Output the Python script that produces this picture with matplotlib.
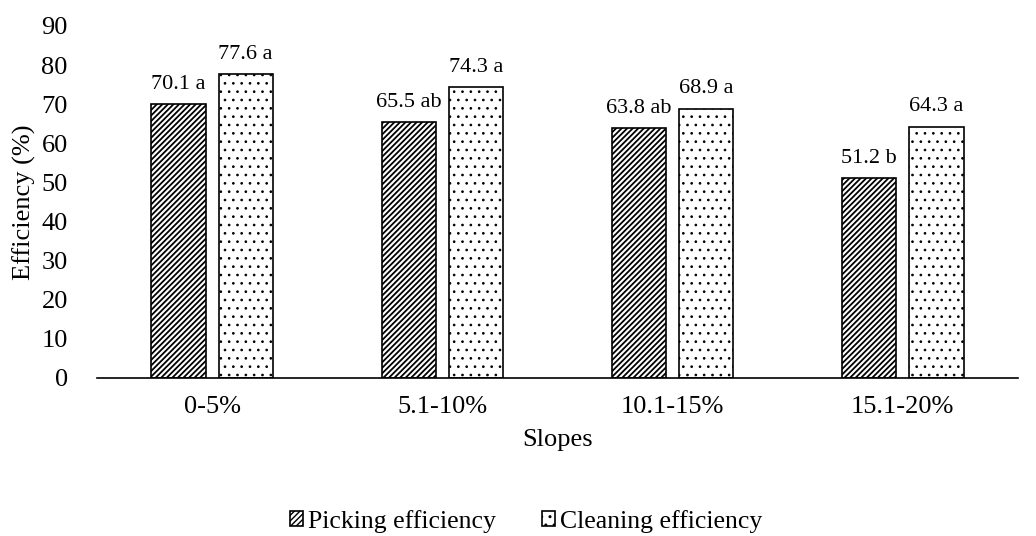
import matplotlib.pyplot as plt
import numpy as np

plt.rcParams['font.family'] = ['Liberation Serif', 'DejaVu Serif']

slopes = ['0-5%', '5.1-10%', '10.1-15%', '15.1-20%']
picking = [70.1, 65.5, 63.8, 51.2]
cleaning = [77.6, 74.3, 68.9, 64.3]
picking_lbl = ['70.1 a', '65.5 ab', '63.8 ab', '51.2 b']
cleaning_lbl = ['77.6 a', '74.3 a', '68.9 a', '64.3 a']

fig = plt.figure(figsize=(10.36, 5.36), dpi=100)
ax = fig.add_axes([0.0936, 0.2948, 0.889, 0.6567])

x = np.arange(len(slopes))
w = 0.235
off = 0.146

with plt.rc_context({'hatch.linewidth': 1.3}):
    b1 = ax.bar(x - off, picking, w, color='white', edgecolor='black', hatch='//////',
                linewidth=1.2, label='Picking efficiency')
with plt.rc_context({'hatch.linewidth': 0.7}):
    b2 = ax.bar(x + off, cleaning, w, color='white', edgecolor='black', hatch='..',
                linewidth=1.2, label='Cleaning efficiency')

for bars, labels in ((b1, picking_lbl), (b2, cleaning_lbl)):
    for b, t in zip(bars, labels):
        ax.text(b.get_x() + b.get_width() / 2, b.get_height() + 2.6, t,
                ha='center', va='bottom', fontsize=16)

ax.set_xlim(-0.5, 3.5)
ax.set_ylim(0, 90)
ax.set_yticks(range(0, 91, 10))
ax.set_xticks(x)
ax.set_xticklabels(slopes)
ax.tick_params(axis='both', length=0, labelsize=19)
ax.tick_params(axis='x', pad=13)
ax.tick_params(axis='y', pad=21)
for s in ['top', 'right', 'left']:
    ax.spines[s].set_visible(False)
ax.spines['bottom'].set_linewidth(1.2)

ax.set_xlabel('Slopes', fontsize=19, labelpad=8)
ax.set_ylabel('Efficiency (%)', fontsize=19, labelpad=4)

fig.legend(handles=[b1, b2], loc='lower center', bbox_to_anchor=(0.508, -0.037),
           ncol=2, frameon=False, fontsize=18.5, handlelength=0.5, handleheight=0.5,
           handletextpad=0.2, columnspacing=1.8)

fig.savefig('out.png', dpi=100)
